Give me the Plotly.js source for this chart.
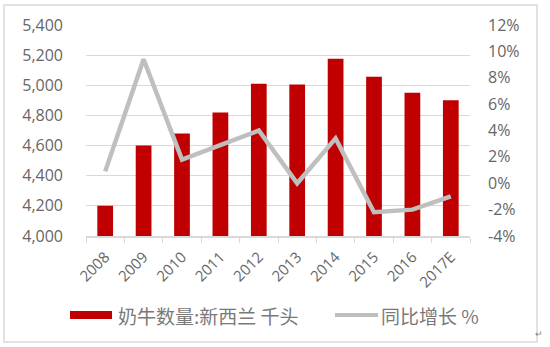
<!DOCTYPE html>
<html><head><meta charset="utf-8">
<script src="https://cdn.plot.ly/plotly-3.0.1.min.js"></script>
<style>html,body{margin:0;padding:0;background:#fff}#c{width:550px;height:347px}</style>
</head><body><div id="c"></div>
<script>
const years = ['2008','2009','2010','2011','2012','2013','2014','2015','2016','2017E'];
const cows = [4200, 4600, 4680, 4820, 5010, 5005, 5176, 5056, 4950, 4900];
const growth = [0.9, 9.4, 1.8, 2.9, 4.0, 0.0, 3.4, -2.2, -2.0, -1.0];
const leftTicks = [4000, 4200, 4400, 4600, 4800, 5000, 5200, 5400];
const rightTicks = [-4, -2, 0, 2, 4, 6, 8, 10, 12];
const rightLabels = ['-4%', '-2%', '0%', '2%', '4%', '6%', '8%', '10%', '12%'];
const seriesNames = ['奶牛数量:新西兰 千头', '同比增长 %'];

const numFont = "'Open Sans', 'Noto Sans', sans-serif";
const cjkFont = "'Noto Sans CJK SC', sans-serif";
const barColor = '#c00000', lineColor = '#bfbfbf', txt = '#666666';

const L = 86, R = 470, T = 25, B = 236;
const px = x => (x - L) / (R - L);
const py = y => (B - y) / (B - T);

const traces = [
  {type:'bar', x: years, y: cows, name: seriesNames[0],
   marker:{color: barColor}, yaxis:'y', showlegend:false},
  {type:'scatter', mode:'lines', x: years, y: growth, name: seriesNames[1],
   line:{color: lineColor, width:4.5}, yaxis:'y2', showlegend:false}
];
const layout = {
  width:550, height:347,
  margin:{l:L, r:550-R, t:T, b:347-B},
  paper_bgcolor:'#fff', plot_bgcolor:'#fff',
  font:{family:numFont, color:txt, size:15},
  bargap:0.59,
  showlegend:false,
  xaxis:{type:'category', showline:true, linecolor:'#d9d9d9', linewidth:1.5, ticks:'outside',
         tickson:'boundaries', ticklen:5, tickcolor:'#d9d9d9', tickangle:-45,
         ticklabelstandoff:5,
         tickfont:{size:15, family:numFont, color:txt}, showgrid:false, zeroline:false},
  yaxis:{range:[4000,5400], tickvals:leftTicks, tickformat:',d',
         showgrid:true, gridcolor:'#d9d9d9', gridwidth:1.2, zeroline:false,
         ticks:'', ticklabelstandoff:22, tickfont:{size:16, family:numFont, color:txt}},
  yaxis2:{range:[-4,12], tickvals:rightTicks, ticktext:rightLabels, overlaying:'y', side:'right',
          showgrid:false, zeroline:false, ticks:'', ticklabelstandoff:17,
          tickfont:{size:16, family:numFont, color:txt}},
  shapes:[
    {type:'rect', xref:'paper', yref:'paper',
     x0:px(4), x1:px(537), y0:py(342), y1:py(5),
     line:{color:'#d9d9d9', width:1.5}, fillcolor:'rgba(0,0,0,0)'},
    {type:'rect', xref:'paper', yref:'paper',
     x0:px(70), x1:px(112), y0:py(319), y1:py(311),
     line:{width:0}, fillcolor: barColor},
    {type:'line', xref:'paper', yref:'paper',
     x0:px(335), x1:px(378), y0:py(315), y1:py(315),
     line:{color: lineColor, width:4}}
  ],
  annotations:[
    {xref:'paper', yref:'paper', x:px(116), y:py(315), xanchor:'left', yanchor:'middle',
     text: seriesNames[0], showarrow:false, font:{size:19, family:cjkFont, color:'#7a7a7a'}},
    {xref:'paper', yref:'paper', x:px(379), y:py(315), xanchor:'left', yanchor:'middle',
     text: seriesNames[1], showarrow:false, font:{size:19, family:cjkFont, color:'#7a7a7a'}},
    {xref:'paper', yref:'paper', x:px(545), y:py(342), text:'↵', showarrow:false,
     font:{size:9, color:'#888'}}
  ]
};
Plotly.newPlot('c', traces, layout, {displayModeBar:false, staticPlot:true});
</script></body></html>
